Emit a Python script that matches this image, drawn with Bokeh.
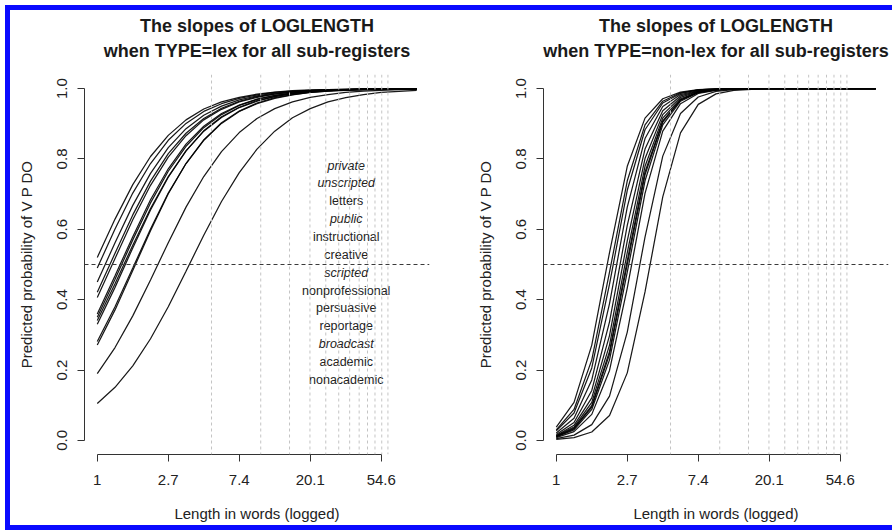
import numpy as np
from bokeh.plotting import figure
from bokeh.layouts import row
from bokeh.models import FixedTicker, Span, Title, ColumnDataSource
from bokeh.core.properties import value
from bokeh.embed import file_html
from bokeh.resources import INLINE

# log(length) grid at which the predicted probabilities were plotted
loglength = [0.0, 0.25, 0.5, 0.75, 1.0, 1.25, 1.5, 1.75, 2.0, 2.25, 2.5,
             2.75, 3.0, 3.25, 3.5, 3.75, 4.0, 4.25, 4.5]

# TYPE = lex : predicted probability of V P DO, one curve per sub-register
lex_curves = [
    [0.520, 0.629, 0.727, 0.807, 0.867, 0.911, 0.942, 0.962, 0.975, 0.984, 0.990, 0.994, 0.996, 0.997, 0.998, 0.999, 0.999, 1.000, 1.000],
    [0.490, 0.601, 0.703, 0.787, 0.853, 0.901, 0.935, 0.957, 0.972, 0.982, 0.989, 0.993, 0.995, 0.997, 0.998, 0.999, 0.999, 1.000, 1.000],
    [0.450, 0.562, 0.668, 0.759, 0.832, 0.886, 0.924, 0.950, 0.968, 0.979, 0.987, 0.991, 0.994, 0.996, 0.998, 0.999, 0.999, 0.999, 1.000],
    [0.421, 0.532, 0.641, 0.737, 0.815, 0.873, 0.915, 0.944, 0.964, 0.977, 0.985, 0.990, 0.994, 0.996, 0.997, 0.998, 0.999, 0.999, 1.000],
    [0.406, 0.517, 0.627, 0.725, 0.805, 0.866, 0.911, 0.941, 0.962, 0.975, 0.984, 0.990, 0.993, 0.996, 0.997, 0.998, 0.999, 0.999, 1.000],
    [0.359, 0.468, 0.579, 0.684, 0.772, 0.842, 0.893, 0.929, 0.953, 0.970, 0.981, 0.988, 0.992, 0.995, 0.997, 0.998, 0.999, 0.999, 1.000],
    [0.350, 0.458, 0.570, 0.675, 0.765, 0.836, 0.889, 0.926, 0.952, 0.969, 0.980, 0.987, 0.992, 0.995, 0.997, 0.998, 0.999, 0.999, 0.999],
    [0.341, 0.445, 0.555, 0.659, 0.750, 0.823, 0.879, 0.918, 0.946, 0.964, 0.977, 0.985, 0.990, 0.994, 0.996, 0.997, 0.998, 0.999, 0.999],
    [0.330, 0.435, 0.547, 0.655, 0.748, 0.823, 0.880, 0.920, 0.947, 0.966, 0.978, 0.986, 0.991, 0.994, 0.996, 0.998, 0.998, 0.999, 0.999],
    [0.281, 0.380, 0.490, 0.601, 0.703, 0.787, 0.853, 0.901, 0.935, 0.957, 0.972, 0.982, 0.989, 0.993, 0.995, 0.997, 0.998, 0.999, 0.999],
    [0.271, 0.371, 0.483, 0.596, 0.701, 0.787, 0.854, 0.903, 0.936, 0.959, 0.974, 0.983, 0.989, 0.993, 0.996, 0.997, 0.998, 0.999, 0.999],
    [0.190, 0.264, 0.354, 0.456, 0.562, 0.663, 0.750, 0.821, 0.875, 0.915, 0.943, 0.962, 0.975, 0.983, 0.989, 0.993, 0.995, 0.997, 0.998],
    [0.105, 0.151, 0.212, 0.289, 0.380, 0.481, 0.583, 0.679, 0.761, 0.828, 0.879, 0.917, 0.943, 0.962, 0.974, 0.983, 0.989, 0.992, 0.995],
]

# TYPE = non-lex
nonlex_curves = [
    [0.038, 0.108, 0.271, 0.534, 0.779, 0.916, 0.971, 0.990, 0.997, 0.999, 1.0, 1.0, 1.0, 1.0, 1.0, 1.0, 1.0, 1.0, 1.0],
    [0.030, 0.088, 0.229, 0.478, 0.738, 0.897, 0.964, 0.988, 0.996, 0.999, 1.0, 1.0, 1.0, 1.0, 1.0, 1.0, 1.0, 1.0, 1.0],
    [0.027, 0.078, 0.206, 0.444, 0.711, 0.883, 0.959, 0.986, 0.996, 0.999, 1.0, 1.0, 1.0, 1.0, 1.0, 1.0, 1.0, 1.0, 1.0],
    [0.021, 0.063, 0.172, 0.389, 0.663, 0.858, 0.949, 0.983, 0.994, 0.998, 0.999, 1.0, 1.0, 1.0, 1.0, 1.0, 1.0, 1.0, 1.0],
    [0.017, 0.051, 0.142, 0.337, 0.611, 0.828, 0.937, 0.979, 0.993, 0.998, 0.999, 1.0, 1.0, 1.0, 1.0, 1.0, 1.0, 1.0, 1.0],
    [0.014, 0.043, 0.121, 0.298, 0.567, 0.801, 0.926, 0.975, 0.992, 0.997, 0.999, 1.0, 1.0, 1.0, 1.0, 1.0, 1.0, 1.0, 1.0],
    [0.013, 0.038, 0.108, 0.271, 0.534, 0.779, 0.916, 0.971, 0.990, 0.997, 0.999, 1.0, 1.0, 1.0, 1.0, 1.0, 1.0, 1.0, 1.0],
    [0.012, 0.035, 0.099, 0.253, 0.511, 0.763, 0.908, 0.968, 0.990, 0.997, 0.999, 1.0, 1.0, 1.0, 1.0, 1.0, 1.0, 1.0, 1.0],
    [0.011, 0.033, 0.095, 0.245, 0.500, 0.755, 0.905, 0.967, 0.989, 0.996, 0.999, 1.0, 1.0, 1.0, 1.0, 1.0, 1.0, 1.0, 1.0],
    [0.010, 0.030, 0.088, 0.229, 0.478, 0.738, 0.897, 0.964, 0.988, 0.996, 0.999, 1.0, 1.0, 1.0, 1.0, 1.0, 1.0, 1.0, 1.0],
    [0.008, 0.025, 0.074, 0.199, 0.433, 0.702, 0.879, 0.957, 0.986, 0.995, 0.999, 1.0, 1.0, 1.0, 1.0, 1.0, 1.0, 1.0, 1.0],
    [0.005, 0.015, 0.045, 0.126, 0.308, 0.578, 0.808, 0.929, 0.976, 0.992, 0.997, 0.999, 1.0, 1.0, 1.0, 1.0, 1.0, 1.0, 1.0],
    [0.003, 0.008, 0.024, 0.071, 0.192, 0.422, 0.692, 0.874, 0.955, 0.985, 0.995, 0.998, 1.0, 1.0, 1.0, 1.0, 1.0, 1.0, 1.0],
]

registers = ["private", "unscripted", "letters", "public", "instructional", "creative",
             "scripted", "nonprofessional", "persuasive", "reportage", "broadcast",
             "academic", "nonacademic"]
italic_registers = ["private", "unscripted", "public", "scripted", "broadcast"]

x_tick_values = [0, 1, 2, 3, 4]
x_tick_labels = ["1", "2.7", "7.4", "20.1", "54.6"]
y_tick_values = [0.0, 0.2, 0.4, 0.6, 0.8, 1.0]
reference_lengths = [5, 10, 15, 20, 25, 30, 35, 40, 45, 50, 55, 60]
threshold = 0.5

FONT = "Liberation Sans"
H = 515


def make_panel(curves, title_lines, width, left, right, legend=False):
    p = figure(width=width, height=H, output_backend="svg", toolbar_location=None,
               x_range=(-0.18, 4.68), y_range=(-0.04, 1.04), title=None,
               min_border_left=left, min_border_right=right,
               min_border_top=64, min_border_bottom=71)
    p.xgrid.visible = False
    p.ygrid.visible = False
    p.outline_line_color = None
    p.background_fill_color = "white"
    p.border_fill_color = "white"

    for v in np.log(reference_lengths):
        p.add_layout(Span(location=float(v), dimension="height", line_color="#c4c4c4",
                          line_dash="3 3", line_width=1))
    p.add_layout(Span(location=threshold, dimension="width", line_color="#3a3a3a",
                      line_dash="4 3", line_width=1))

    for c in curves:
        p.line(loglength, c, line_color="black", line_width=1.25, line_alpha=0.9)

    if legend:
        n = len(registers)
        ys = [0.781 - 0.0507 * i for i in range(n)]
        styles = ["italic" if r in italic_registers else "normal" for r in registers]
        src = ColumnDataSource(dict(x=[3.507] * n, y=ys, t=registers, s=styles))
        p.text("x", "y", text="t", source=src, text_font=value(FONT),
               text_font_size="12.5px", text_font_style="s", text_color="#222222",
               text_align="center", text_baseline="middle")

    xa = p.xaxis[0]
    xa.ticker = FixedTicker(ticks=x_tick_values)
    xa.major_label_overrides = {v: l for v, l in zip(x_tick_values, x_tick_labels)}
    xa.bounds = (0, 4)
    ya = p.yaxis[0]
    ya.ticker = FixedTicker(ticks=y_tick_values)
    ya.major_label_overrides = {v: "%.1f" % v for v in y_tick_values}
    ya.bounds = (0, 1)
    ya.major_label_orientation = "vertical"
    xa.axis_label = "Length in words (logged)"
    ya.axis_label = "Predicted probability of V P DO"
    for ax in (xa, ya):
        ax.minor_tick_line_color = None
        ax.major_tick_in = 0
        ax.major_tick_out = 7
        ax.axis_line_color = "#333333"
        ax.major_tick_line_color = "#333333"
        ax.major_label_text_font = FONT
        ax.major_label_text_font_size = "15px"
        ax.major_label_text_color = "#222222"
        ax.axis_label_text_font = FONT
        ax.axis_label_text_font_size = "15px"
        ax.axis_label_text_font_style = "normal"
        ax.axis_label_text_color = "#222222"
    xa.major_label_standoff = 13
    xa.axis_label_standoff = 17
    ya.major_label_standoff = 10
    ya.axis_label_standoff = 20

    # second title line (nearest the plot), then first line above it
    p.add_layout(Title(text=title_lines[1], align="center", text_font=FONT,
                       text_font_size="18px", text_font_style="bold",
                       text_color="#1a1a1a", standoff=28), "above")
    p.add_layout(Title(text=title_lines[0], align="center", text_font=FONT,
                       text_font_size="18px", text_font_style="bold",
                       text_color="#1a1a1a", standoff=-22), "above")
    return p


p1 = make_panel(lex_curves, ["The slopes of LOGLENGTH",
                             "when TYPE=lex for all sub-registers"],
                442, 74, 23, legend=True)
p2 = make_panel(nonlex_curves, ["The slopes of LOGLENGTH",
                                "when TYPE=non-lex for all sub-registers"],
                440, 91, 4)

layout = row(p1, p2, styles={"border-top": "5px solid #0a0aff",
                             "border-left": "5px solid #0a0aff",
                             "border-bottom": "5px solid #0a0aff",
                             "margin-top": "5px", "margin-left": "5px",
                             "background-color": "white"})

open("out.html", "w").write(file_html(layout, INLINE))
